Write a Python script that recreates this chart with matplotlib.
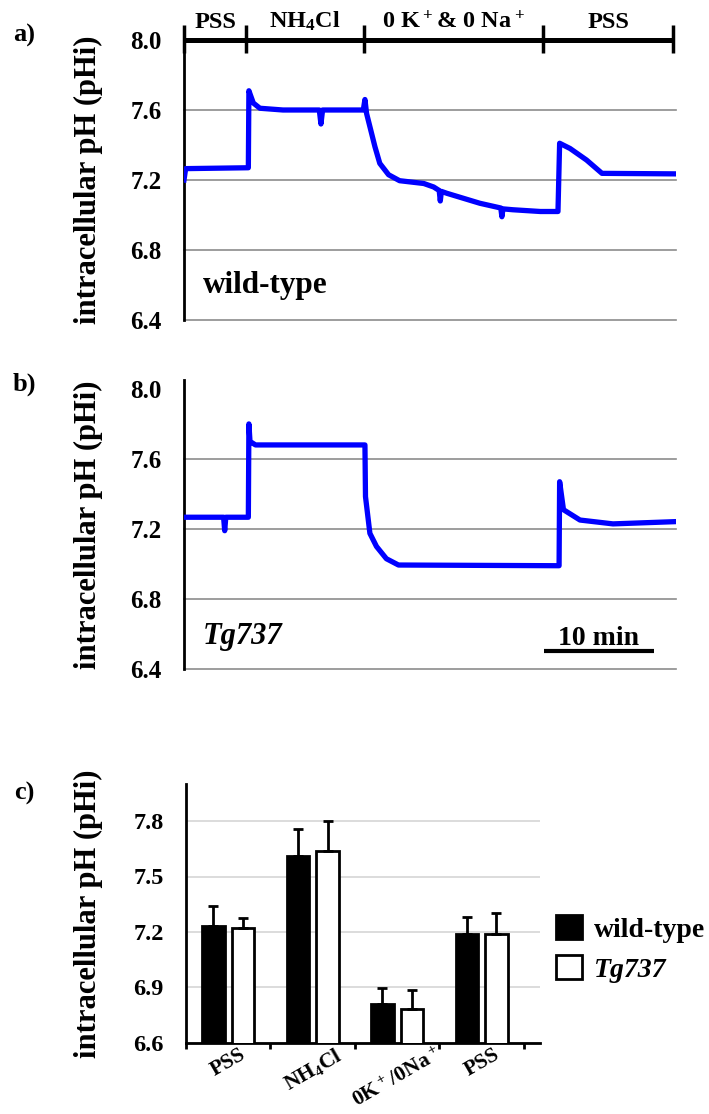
import numpy as np
import matplotlib
matplotlib.use("Agg")
import matplotlib.pyplot as plt

plt.rcParams['font.family'] = ['Liberation Serif', 'DejaVu Serif']
plt.rcParams['font.weight'] = 'bold'
plt.rcParams['axes.labelweight'] = 'bold'
plt.rcParams['mathtext.default'] = 'regular'

# pHi traces (time in min, pHi)
wt_time = [0.0, 0.15, 5.85, 5.9, 6.3, 6.9, 9.0, 12.3, 12.45, 12.6, 16.3, 16.45, 16.6,
           16.9, 17.36, 17.8, 18.6, 19.6, 21.8, 22.7, 23.2, 23.3, 23.4, 23.9, 26.9,
           28.8, 28.9, 29.0, 29.9, 32.4, 34.0, 34.15, 35.1, 36.6, 38.0, 44.73]
wt_ph = [7.20, 7.265, 7.27, 7.71, 7.64, 7.61, 7.60, 7.60, 7.52, 7.60, 7.60, 7.66, 7.58,
         7.505, 7.39, 7.295, 7.23, 7.196, 7.18, 7.16, 7.14, 7.08, 7.135, 7.124, 7.067,
         7.04, 6.99, 7.035, 7.03, 7.02, 7.02, 7.41, 7.38, 7.314, 7.238, 7.235]

tg_time = [0.0, 3.6, 3.7, 3.8, 5.85, 5.9, 6.0, 6.5, 16.45, 16.5, 16.9, 17.5, 18.4,
           19.5, 34.1, 34.15, 34.5, 36.0, 39.0, 44.73]
tg_ph = [7.267, 7.267, 7.19, 7.267, 7.267, 7.80, 7.70, 7.68, 7.68, 7.385, 7.175, 7.10, 7.03,
         6.994, 6.99, 7.47, 7.31, 7.251, 7.229, 7.242]

solution_labels = ["PSS", "NH$_4$Cl", "0 K$^+$& 0 Na$^+$", "PSS"]
solution_edges = [0, 5.64, 16.36, 32.66, 44.43]
scale_start, scale_len = 32.7, 10

# summary bars (mean + error)
categories = ["PSS", "NH$_4$Cl", "0K$^+$/0Na$^+$", "PSS"]
wt_mean = [7.23, 7.61, 6.81, 7.19]
wt_err = [0.11, 0.145, 0.09, 0.09]
tg_mean = [7.22, 7.64, 6.785, 7.19]
tg_err = [0.056, 0.16, 0.10, 0.11]

W, H = 709, 1114
fig = plt.figure(figsize=(W / 100, H / 100), dpi=100)


def px_axes(left, top, right, bottom):
    return fig.add_axes([left / W, 1 - bottom / H, (right - left) / W, (bottom - top) / H])


ax_a = px_axes(184, 40, 676, 320)
ax_b = px_axes(184, 380, 676, 669)
ax_c = px_axes(186, 784, 540, 1043)

# trace panels
for ax, t, ph, top in [(ax_a, wt_time, wt_ph, 8.0), (ax_b, tg_time, tg_ph, 8.051)]:
    ax.plot(t, ph, color='#0000ff', lw=3.8, zorder=3)
    ax.set_xlim(0, 44.73)
    ax.set_ylim(6.4, top)
    for level in [6.4, 6.8, 7.2, 7.6]:
        ax.axhline(level, color='#8c8c8c', lw=1.2, zorder=1, clip_on=False)
    ax.set_yticks([6.4, 6.8, 7.2, 7.6, 8.0])
    ax.set_yticklabels([f"{v:.1f}" for v in [6.4, 6.8, 7.2, 7.6, 8.0]])
    ax.tick_params(axis='y', length=0, pad=16, labelsize=18)
    ax.set_xticks([])
    for s in ['top', 'right', 'bottom']:
        ax.spines[s].set_visible(False)
    ax.spines['left'].set_linewidth(2)
    ax.set_ylabel('intracellular pH (pHi)', fontsize=22)
    ax.yaxis.set_label_coords(-0.165, 0.5)

# solution bar on top of panel a
ax_a.hlines(8.0, solution_edges[0], solution_edges[-1], color='black', lw=3.6, clip_on=False)
ax_a.vlines(solution_edges, 7.926, 8.086, color='black', lw=2.5, clip_on=False)
for i, lab in enumerate(solution_labels):
    mid = (solution_edges[i] + solution_edges[i + 1]) / 2
    ax_a.text(mid, 8.07, lab, ha='center', va='baseline', fontsize=17.5, clip_on=False)

ax_a.text(1.73, 6.554, 'wild-type', fontsize=22.5, va='baseline')
ax_b.text(1.73, 6.543, 'Tg737', fontsize=22, style='italic', va='baseline')
ax_b.hlines(6.505, scale_start, scale_start + scale_len, color='black', lw=3)
ax_b.text(scale_start + scale_len / 2, 6.537, '10 min', fontsize=20, ha='center', va='baseline')

# bar chart
x = np.arange(len(categories))
ekw = dict(ecolor='black', elinewidth=2, capsize=3.5, capthick=2)
wt_bars = ax_c.bar(x - 0.175, wt_mean, 0.27, color='black', edgecolor='black', lw=2,
                   yerr=[np.zeros(len(x)), wt_err], error_kw=ekw, label='wild-type', zorder=3)
tg_bars = ax_c.bar(x + 0.175, tg_mean, 0.27, color='white', edgecolor='black', lw=2,
                   yerr=[np.zeros(len(x)), tg_err], error_kw=ekw, label='Tg737', zorder=3)
ax_c.set_ylim(6.6, 8.0)
ax_c.set_xlim(-0.5, 3.69)
ax_c.set_yticks([6.6, 6.9, 7.2, 7.5, 7.8])
ax_c.set_yticklabels([f"{v:.1f}" for v in [6.6, 6.9, 7.2, 7.5, 7.8]])
ax_c.yaxis.grid(True, color='#d9d9d9', lw=1.3)
ax_c.set_axisbelow(True)
ax_c.tick_params(axis='y', length=0, pad=16, labelsize=17.5)
ax_c.set_xticks(np.arange(-0.5, 4, 1))
ax_c.set_xticklabels([])
ax_c.tick_params(axis='x', which='major', direction='out', length=4, width=2)
ax_c.set_xticks(x, minor=True)
ax_c.set_xticklabels(categories, minor=True, rotation=30, fontsize=15.5)
ax_c.tick_params(axis='x', which='minor', length=0, pad=1)
for s in ['top', 'right']:
    ax_c.spines[s].set_visible(False)
ax_c.spines['left'].set_linewidth(2)
ax_c.spines['bottom'].set_linewidth(2)
ax_c.set_ylabel('intracellular pH (pHi)', fontsize=22)
ax_c.yaxis.set_label_coords(-0.234, 0.5)

leg = ax_c.legend(handles=[wt_bars, tg_bars], loc='upper left',
                  bbox_to_anchor=(556 / W, 1 - 915 / H), bbox_transform=fig.transFigure,
                  frameon=False, fontsize=20, handlelength=0.95, handleheight=0.95,
                  handletextpad=0.4, labelspacing=0.45, borderaxespad=0, borderpad=0)
leg.get_texts()[1].set_style('italic')

fig.text(24 / W, 1 - 35 / H, 'a)', ha='center', va='center', fontsize=19)
fig.text(24 / W, 1 - 384 / H, 'b)', ha='center', va='center', fontsize=19)
fig.text(24 / W, 1 - 793 / H, 'c)', ha='center', va='center', fontsize=19)

fig.savefig('out.png', dpi=100)
